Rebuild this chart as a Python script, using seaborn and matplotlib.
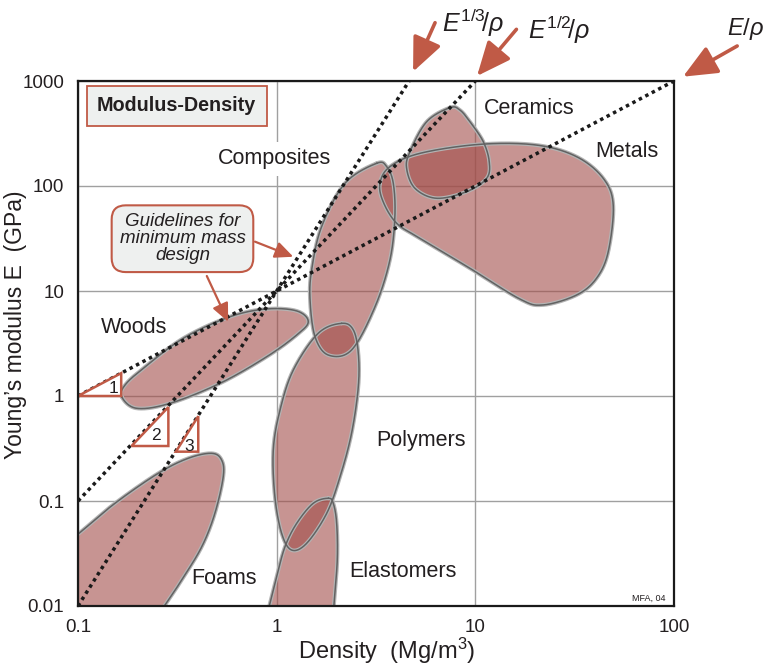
import numpy as np
import pandas as pd
import matplotlib
matplotlib.use("Agg")
import matplotlib.pyplot as plt
import seaborn as sns

# ---------------------------------------------------------------------------
# Material-family envelopes (outline points, log10 of density in Mg/m^3 and
# log10 of Young's modulus in GPa), traced clockwise.
# ---------------------------------------------------------------------------
woods_log_rho = [-0.780, -0.705, -0.537, -0.285, -0.050, 0.101, 0.159, 0.101, -0.050, -0.235, -0.470, -0.671, -0.763]
woods_log_E = [-0.007, -0.117, -0.070, 0.121, 0.374, 0.581, 0.708, 0.810, 0.829, 0.755, 0.550, 0.264, 0.105]

composites_log_rho = [0.503, 0.344, 0.226, 0.176, 0.168, 0.193, 0.260, 0.377, 0.495, 0.570, 0.595, 0.587, 0.554]
composites_log_E = [2.216, 2.026, 1.612, 1.200, 0.914, 0.565, 0.390, 0.438, 0.850, 1.295, 1.708, 2.026, 2.184]

ceramics_log_rho = [0.872, 0.755, 0.671, 0.654, 0.696, 0.805, 0.956, 1.057, 1.070, 1.040, 0.973, 0.922]
ceramics_log_E = [2.746, 2.612, 2.327, 2.169, 1.978, 1.883, 1.946, 2.073, 2.231, 2.422, 2.612, 2.724]

metals_log_rho = [0.520, 0.570, 0.721, 1.023, 1.308, 1.510, 1.644, 1.694, 1.669, 1.610, 1.510, 1.340, 1.224, 0.973, 0.721, 0.604, 0.536]
metals_log_E = [2.026, 2.184, 2.311, 2.397, 2.390, 2.279, 2.073, 1.819, 1.374, 1.121, 0.962, 0.867, 0.924, 1.216, 1.502, 1.645, 1.850]

polymers_log_rho = [0.327, 0.209, 0.084, 0.017, -0.017, -0.009, 0.025, 0.075, 0.151, 0.252, 0.319, 0.377, 0.411, 0.411, 0.386]
polymers_log_E = [0.692, 0.597, 0.248, -0.133, -0.514, -0.959, -1.308, -1.467, -1.403, -1.117, -0.769, -0.355, 0.089, 0.407, 0.629]

elastomers_log_rho = [0.260, 0.184, 0.101, 0.042, 0.000, -0.037, -0.080, 0.280, 0.288, 0.305, 0.302, 0.285]
elastomers_log_E = [-0.974, -1.022, -1.212, -1.435, -1.721, -2.000, -2.300, -2.300, -2.000, -1.562, -1.212, -1.022]

foams_log_rho = [-1.242, -0.995, -0.814, -0.596, -0.445, -0.327, -0.277, -0.269, -0.311, -0.377, -0.478, -0.562, -0.648, -1.242]
foams_log_E = [-1.686, -1.308, -1.022, -0.736, -0.593, -0.546, -0.610, -0.769, -1.117, -1.435, -1.752, -1.990, -2.229, -2.419]

# Family labels and their positions (density, modulus)
family_names = ["Composites", "Ceramics", "Metals", "Woods", "Polymers", "Elastomers", "Foams"]
family_label_rho = [0.973, 18.7, 58.0, 0.191, 5.3, 4.34, 0.544]
family_label_E = [181.0, 550.0, 215.0, 4.47, 0.375, 0.0212, 0.0183]

# Design guidelines E^(1/n)/rho = const (slope n on log-log axes)
guide_slope = [3, 2, 1]
guide_rho_start = [0.1, 0.1, 0.1]
guide_rho_end = [4.64, 10.0, 100.0]
guide_E_start = [0.01, 0.1, 1.0]
guide_E_end = [1000.0, 1000.0, 1000.0]
guide_names = [r"$E^{\mathit{1/3}}\!/\rho$", r"$E^{\mathit{1/2}}\!/\rho$", r"$E/\rho$"]

# Slope triangles
tri_rho_left = [0.1, 0.186, 0.311]
tri_rho_right = [0.165, 0.285, 0.403]
tri_E_base = [1.0, 0.334, 0.295]
tri_slope = [1, 2, 3]
tri_num_rho = [0.151, 0.247, 0.363]
tri_num_E = [1.19, 0.416, 0.334]

# Axis ticks
density_ticks = [0.1, 1, 10, 100]
density_tick_labels = ["0.1", "1", "10", "100"]
modulus_ticks = [0.01, 0.1, 1, 10, 100, 1000]
modulus_tick_labels = ["0.01", "0.1", "1", "10", "100", "1000"]

RED = "#c05a46"
TEXT = "#231f20"
FILL = "#a24d49"

sns.set_theme(style="white")
plt.rcParams["font.family"] = ["Liberation Sans", "DejaVu Sans"]
plt.rcParams["mathtext.fontset"] = "custom"
plt.rcParams["mathtext.rm"] = "Liberation Sans"
plt.rcParams["mathtext.it"] = "Liberation Sans:italic"
plt.rcParams["mathtext.sf"] = "Liberation Sans"


def smooth_closed(lx, ly, n=40):
    """Closed Catmull-Rom spline through the outline points (log space)."""
    P = np.column_stack([lx, ly])
    m = len(P)
    t = np.linspace(0, 1, n, endpoint=False)[:, None]
    segs = []
    for i in range(m):
        p0, p1, p2, p3 = P[(i - 1) % m], P[i], P[(i + 1) % m], P[(i + 2) % m]
        seg = 0.5 * (2 * p1 + (-p0 + p2) * t + (2 * p0 - 5 * p1 + 4 * p2 - p3) * t ** 2
                     + (-p0 + 3 * p1 - 3 * p2 + p3) * t ** 3)
        segs.append(seg)
    out = np.vstack(segs + [P[:1]])
    return 10 ** out[:, 0], 10 ** out[:, 1]


fig = plt.figure(figsize=(7.67, 6.66), dpi=100)
ax = fig.add_axes([78 / 767, 60 / 666, 596 / 767, 525 / 666])
ax.set_xscale("log")
ax.set_yscale("log")
ax.set_xlim(0.1, 100)
ax.set_ylim(0.01, 1000)

ax.set_xticks(density_ticks)
ax.set_xticklabels(density_tick_labels)
ax.set_yticks(modulus_ticks)
ax.set_yticklabels(modulus_tick_labels)
ax.minorticks_off()
ax.tick_params(axis="both", length=0, labelsize=13.5, labelcolor=TEXT)
ax.tick_params(axis="x", pad=9)
ax.tick_params(axis="y", pad=10)
ax.grid(True, which="major", color="#a0a0a0", lw=1.0)
ax.set_axisbelow(True)
for sp in ax.spines.values():
    sp.set_color("#1a1a1a")
    sp.set_linewidth(1.6)
    sp.set_zorder(8)

# Envelopes: translucent fills first, then outlines over everything
outlines = [
    (woods_log_rho, woods_log_E),
    (composites_log_rho, composites_log_E),
    (ceramics_log_rho, ceramics_log_E),
    (metals_log_rho, metals_log_E),
    (polymers_log_rho, polymers_log_E),
    (elastomers_log_rho, elastomers_log_E),
    (foams_log_rho, foams_log_E),
]
curves = [smooth_closed(lr, le) for lr, le in outlines]
for cx, cy in curves:
    ax.fill(cx, cy, facecolor=FILL, alpha=0.6, lw=0, zorder=2)
for cx, cy in curves:
    ax.plot(cx, cy, color="#b4b4b4", lw=2.8, zorder=3, solid_joinstyle="round")
    ax.plot(cx, cy, color="#626262", lw=1.1, zorder=3.1, solid_joinstyle="round")

# Guidelines
guides = pd.DataFrame({
    "density": guide_rho_start + guide_rho_end,
    "modulus": guide_E_start + guide_E_end,
    "slope": guide_slope + guide_slope,
})
for n in guide_slope:
    sub = guides[guides["slope"] == n]
    sns.lineplot(data=sub, x="density", y="modulus", ax=ax, color="#1a1a1a", lw=2.5,
                 linestyle=(0, (1.0, 1.1)), zorder=4, legend=False)
ax.set_xlabel("")
ax.set_ylabel("")

# Slope triangles
for rl, rr, eb, n, tx, ty in zip(tri_rho_left, tri_rho_right, tri_E_base, tri_slope,
                                 tri_num_rho, tri_num_E):
    etop = eb * (rr / rl) ** n
    ax.fill([rl, rr, rr, rl], [eb, etop, eb, eb], facecolor="white", edgecolor=RED,
            lw=1.8, zorder=5, joinstyle="miter")
    ax.text(tx, ty, str(n), fontsize=12.5, color=TEXT, ha="center", va="center", zorder=6)

# Family names
for name, rx, ey in zip(family_names, family_label_rho, family_label_E):
    kw = {}
    if name == "Composites":
        kw["bbox"] = dict(boxstyle="square,pad=0.3", facecolor="white", edgecolor="none")
    ax.text(rx, ey, name, fontsize=15.5, color=TEXT, ha="center", va="center", zorder=6, **kw)

# Title box
ax.text(0.1656, 0.9528, "Modulus-Density", transform=ax.transAxes, fontsize=14.2,
        fontweight="bold", color=TEXT, ha="center", va="center", zorder=7,
        bbox=dict(boxstyle="square,pad=0.52", facecolor="#eef0ef", edgecolor=RED, lw=1.3))

# Guideline call-out
ax.text(0.1753, 0.6996, "Guidelines for\nminimum mass\ndesign", transform=ax.transAxes,
        fontsize=13.5, style="italic", color=TEXT, ha="center", va="center",
        linespacing=1.0, zorder=7,
        bbox=dict(boxstyle="round,pad=0.42,rounding_size=0.75", facecolor="#eef0ef",
                  edgecolor=RED, lw=1.5))
small_arrow = dict(arrowstyle="-|>,head_length=0.55,head_width=0.25", color=RED, lw=1.6,
                   shrinkA=0, shrinkB=0, mutation_scale=20)
ax.annotate("", xy=(1.212, 21.2), xytext=(0.778, 29.5), arrowprops=small_arrow, zorder=7)
ax.annotate("", xy=(0.570, 5.1), xytext=(0.445, 13.9), arrowprops=small_arrow, zorder=7)

# Guideline labels with arrows above the frame
big_arrow = dict(arrowstyle="-|>,head_length=0.8,head_width=0.35", color=RED, lw=2.6,
                 shrinkA=0, shrinkB=0, mutation_scale=26)
arrow_tips = [(4.86, 1227), (10.2, 1116), (111, 1099)]
arrow_tails = [(6.27, 3590), (16.1, 3105), (208, 2155)]
for tip, tail in zip(arrow_tips, arrow_tails):
    ax.annotate("", xy=tip, xytext=tail, arrowprops=big_arrow, annotation_clip=False, zorder=7)
label_pos = [(0.576, 0.952), (0.688, 0.9414), (0.948, 0.947)]
label_size = [18, 18, 17]
for name, (fx, fy), fs in zip(guide_names, label_pos, label_size):
    fig.text(fx, fy, name, fontsize=fs, color=TEXT, ha="left", va="baseline")

ax.text(0.958, 0.015, "MFA, 04", transform=ax.transAxes, fontsize=6.5, color=TEXT,
        ha="center", va="center", zorder=7)

# Axis titles
ax.set_xlabel("Density  (Mg/m$^3$)", fontsize=17, color=TEXT)
ax.xaxis.set_label_coords(0.518, -0.0857)
ax.xaxis.label.set_verticalalignment("center")
ax.set_ylabel("Young\u2019s modulus E  (GPa)", fontsize=16.5, color=TEXT)
ax.yaxis.set_label_coords(-0.1057, 0.535)
ax.yaxis.label.set_verticalalignment("center")

fig.savefig("out.png", dpi=100)
